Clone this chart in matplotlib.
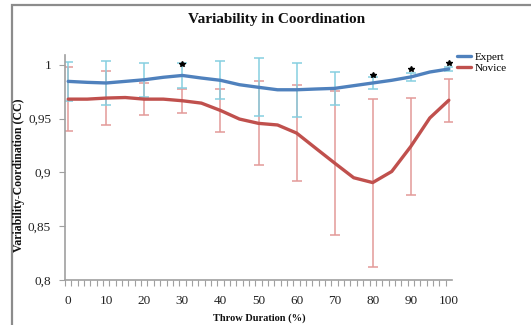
import matplotlib
matplotlib.use("Agg")
import matplotlib.pyplot as plt
import numpy as np
from matplotlib.patches import Rectangle
from matplotlib.ticker import FixedLocator, FuncFormatter

# ---- data ----
duration = [0, 5, 10, 15, 20, 25, 30, 35, 40, 45, 50, 55, 60, 65, 70, 75, 80, 85, 90, 95, 100]
expert = [0.9845, 0.9836, 0.983, 0.9845, 0.986, 0.9883, 0.990, 0.9876, 0.9855, 0.9814, 0.979,
          0.9767, 0.9767, 0.9774, 0.978, 0.9805, 0.983, 0.9855, 0.9886, 0.9932, 0.996]
novice = [0.968, 0.968, 0.969, 0.9695, 0.968, 0.968, 0.9665, 0.9643, 0.9575, 0.9495, 0.9455,
          0.944, 0.9365, 0.9225, 0.9086, 0.895, 0.8905, 0.9008, 0.924, 0.9505, 0.967]

err_x = [0, 10, 20, 30, 40, 50, 60, 70, 80, 90, 100]
expert_mean = [0.9845, 0.983, 0.986, 0.990, 0.9855, 0.979, 0.9767, 0.978, 0.983, 0.9886, 0.996]
expert_sd = [0.018, 0.020, 0.016, 0.012, 0.0175, 0.027, 0.025, 0.015, 0.006, 0.004, 0.0015]
novice_mean = [0.968, 0.969, 0.968, 0.9665, 0.9575, 0.9455, 0.9365, 0.9086, 0.8905, 0.924, 0.967]
novice_sd = [0.030, 0.025, 0.015, 0.011, 0.020, 0.039, 0.045, 0.067, 0.078, 0.045, 0.020]

star_x = [30, 80, 90, 100]
star_y = [1.001, 0.990, 0.996, 1.002]

yticks = [0.8, 0.85, 0.9, 0.95, 1.0]
xticks = [0, 10, 20, 30, 40, 50, 60, 70, 80, 90, 100]

serif = ["Liberation Serif", "DejaVu Serif"]

fig = plt.figure(figsize=(5.31, 3.25), dpi=100)
W, H = 531, 325
ax = fig.add_axes([65 / W, 1 - 280 / H, (452 - 65) / W, (280 - 55) / H])

blue = "#4F81BD"
red = "#C0504D"
lblue = "#86CFE0"
lred = "#E39A98"

ax.errorbar(err_x, novice_mean, yerr=novice_sd, fmt="none", ecolor=lred,
            elinewidth=1.1, capsize=3.3, capthick=1.1, zorder=2)
ax.errorbar(err_x, expert_mean, yerr=expert_sd, fmt="none", ecolor=lblue,
            elinewidth=1.1, capsize=3.3, capthick=1.1, zorder=2)
ax.plot(duration, novice, color=red, lw=2.4, solid_capstyle="round", zorder=3, label="Novice")
ax.plot(duration, expert, color=blue, lw=2.4, solid_capstyle="round", zorder=4, label="Expert")
ax.plot(star_x, star_y, ls="none", marker="*", color="black", ms=4.2, zorder=5)

cat_w = 100 / 60
ax.set_xlim(-cat_w / 2, 100 + cat_w / 2)
ax.set_ylim(0.8, 1.009)

ax.yaxis.set_major_locator(FixedLocator(yticks))
ax.yaxis.set_major_formatter(FuncFormatter(lambda v, p: ("%g" % round(v, 2)).replace(".", ",")))
ax.xaxis.set_major_locator(FixedLocator(xticks))
ax.xaxis.set_minor_locator(FixedLocator(list(-cat_w / 2 + cat_w * np.arange(61))))
ax.tick_params(axis="x", which="major", length=0, pad=11, labelsize=9.5, colors="#222222")
ax.tick_params(axis="x", which="minor", length=4, width=0.8, color="#a0a0a0", direction="out")
ax.tick_params(axis="y", which="major", length=4, width=0.8, color="#a0a0a0", labelsize=9.5,
               pad=6, colors="#222222")
ax.tick_params(axis="y", colors="#a0a0a0", labelcolor="#222222")
for lab in ax.get_xticklabels() + ax.get_yticklabels():
    lab.set_family(serif)

for s in ["top", "right"]:
    ax.spines[s].set_visible(False)
for s in ["left", "bottom"]:
    ax.spines[s].set_color("#a0a0a0")
    ax.spines[s].set_linewidth(1.2)

h, l = ax.get_legend_handles_labels()
leg = fig.legend(h[::-1], l[::-1], loc="upper left", bbox_to_anchor=(457 / W, 1 - 52 / H),
                 frameon=False, handlelength=1.3, handletextpad=0.25,
                 labelspacing=0.15, borderaxespad=0, borderpad=0,
                 prop={"family": serif, "size": 8})

fig.text(277 / W, 1 - 20 / H, "Variability in Coordination", ha="center", va="center",
         fontsize=11, fontweight="bold", family=serif, color="#111111")
fig.text(259 / W, 1 - 318 / H, "Throw Duration (%)", ha="center", va="center",
         fontsize=7.5, fontweight="bold", family=serif, color="#111111")
fig.text(19 / W, 1 - 175 / H, "Variability-Coordination (CC)", ha="center", va="center",
         rotation=90, fontsize=8.5, fontweight="bold", family=serif, color="#111111")

fig.patches.append(Rectangle((12 / W, -0.05), 1.1, 1 - 5 / H + 0.05, transform=fig.transFigure,
                             fill=False, edgecolor="#8c8c8c", linewidth=1.6))

fig.savefig("out.png", dpi=100)
